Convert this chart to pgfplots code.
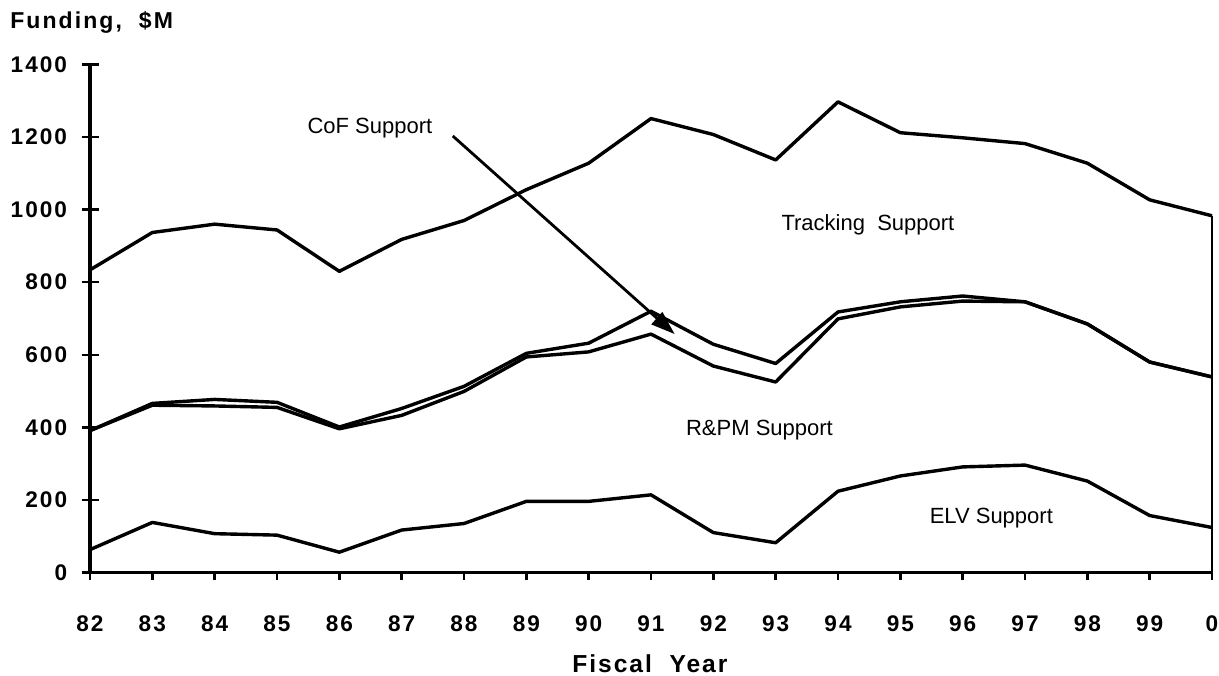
\documentclass[border=0pt]{standalone}
\usepackage{fontspec}
\setmainfont{Liberation Sans}
\newfontfamily\spaced[LetterSpace=9]{Liberation Sans}
\newfontfamily\spacedb[LetterSpace=8]{Liberation Sans}
\usepackage{pgfplots}
\pgfplotsset{compat=1.18}
\usepackage{pgfplotstable}
\usetikzlibrary{arrows.meta}

% cumulative values, $M
\pgfplotstableread{
year elv rpm cof trk
82   63  391 391 834
83  138  461 466 937
84  107  459 477 960
85  103  455 469 944
86   56  396 401 830
87  117  433 452 918
88  135  499 513 970
89  196  594 604 1055
90  196  608 632 1128
91  214  657 720 1251
92  110  569 629 1207
93   82  525 576 1137
94  224  699 718 1297
95  266  732 746 1212
96  291  748 762 1198
97  296  746 746 1182
98  252  685 685 1128
99  157  580 580 1027
100 124  539 539 983
}\funding

\begin{document}
\begin{tikzpicture}
\begin{axis}[
  width=561pt, height=254pt, scale only axis,
  xmin=82, xmax=100, ymin=0, ymax=1400,
  axis x line=bottom, axis y line=left,
  axis line style={-, line width=1.6pt},
  clip=false,
  xtick={82,...,100},
  xticklabels={82,83,84,85,86,87,88,89,90,91,92,93,94,95,96,97,98,99,0},
  ytick={0,200,...,1400},
  yticklabels={0,200,400,600,800,1000,1200,1400},
  major tick length=8.5pt,
  ytick align=center, xtick align=outside,
  x tick style={/pgfplots/major tick length=3.5pt},
  tick style={black, line width=1.2pt},
  yticklabel style={font=\fontsize{11.3}{13}\selectfont\spaced\bfseries, anchor=east, inner sep=0pt, xshift=-7pt},
  xticklabel style={font=\fontsize{11.3}{13}\selectfont\spaced\bfseries, anchor=base, inner sep=0pt, yshift=-21pt},
  every axis plot/.append style={black, line width=1.7pt, line join=round},
]
\addplot[mark=none] table[x=year, y=elv] {\funding};
\addplot[mark=none] table[x=year, y=rpm] {\funding};
\addplot[mark=none] table[x=year, y=cof] {\funding};
\addplot[mark=none] table[x=year, y=trk] {\funding};
\addplot[mark=none, line width=1pt] coordinates {(100,0) (100,983)};

\draw[line width=1.4pt, -{Triangle[length=12pt, width=8pt]}] (axis cs:87.82,1203) -- (axis cs:91.38,657);

\node[font=\fontsize{11}{13}\selectfont] at (axis cs:86.49,1225) {CoF Support};
\node[font=\fontsize{11}{13}\selectfont] at (axis cs:94.48,959) {Tracking\ \ Support};
\node[font=\fontsize{11}{13}\selectfont] at (axis cs:92.74,392) {R\&PM Support};
\node[font=\fontsize{11}{13}\selectfont] at (axis cs:96.46,149) {ELV Support};

\node[font=\fontsize{11.5}{13}\selectfont\spaced\bfseries, anchor=base west, inner sep=0pt]
  at (axis description cs:-0.0713,1.0717) {Funding,\ \ \$M};
\node[font=\fontsize{12.3}{14}\selectfont\spacedb\bfseries, anchor=base, inner sep=0pt]
  at (axis description cs:0.499,-0.196) {Fiscal\ \ Year};
\end{axis}
\path (current axis.south west) ++(-45pt,-51.3pt) coordinate (bl);
\path (current axis.north east) ++(3.5pt,32.25pt) coordinate (tr);
\path (bl) rectangle (tr);
\end{tikzpicture}
\end{document}
